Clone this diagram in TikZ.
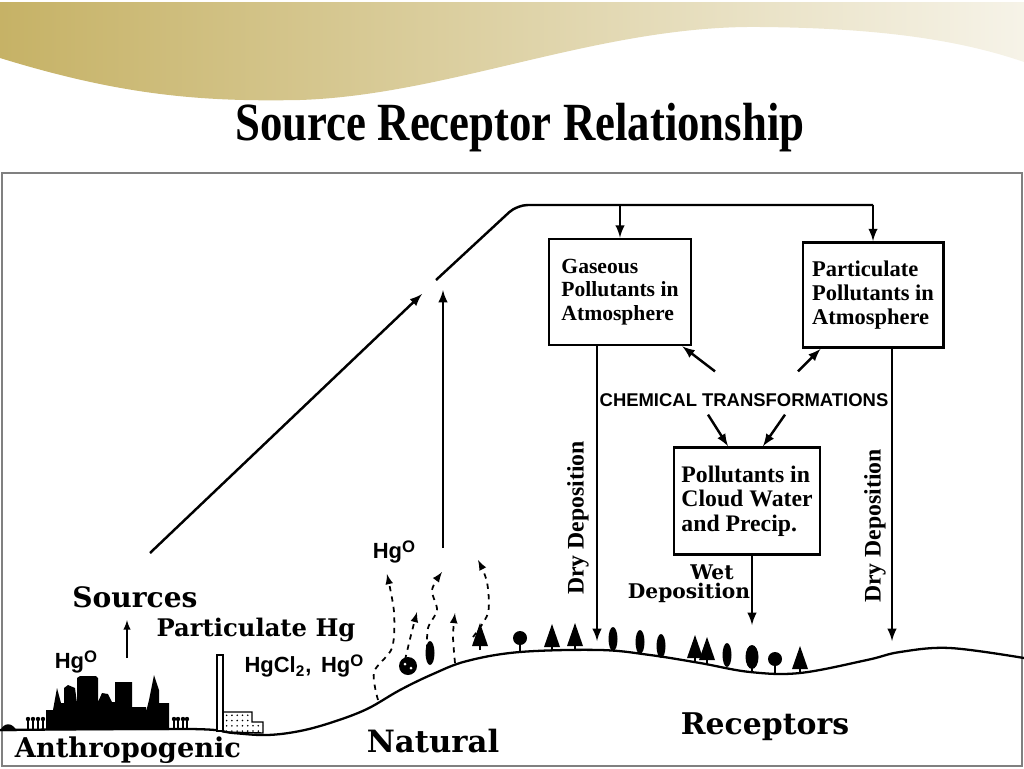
\documentclass[tikz,border=0pt]{standalone}
\usepackage{fontspec}
\setmainfont{Liberation Serif}
\newfontfamily\widefont{DejaVu Serif}
\newfontfamily\arialfont{Liberation Sans}
\usetikzlibrary{calc,patterns}
\definecolor{goldL}{HTML}{C6B266}
\definecolor{goldM}{HTML}{DAD0A2}
\definecolor{goldR}{HTML}{F6F3E8}
\newcommand{\hgo}{Hg\raisebox{0.6ex}{\fontsize{9.5}{9.5}\selectfont O}}
\tikzset{
  main/.style={line width=1.4pt},
  wavy/.style={line width=1pt, dashed},
  box/.style={draw, line width=1.4pt, align=left, inner xsep=5pt, font=\bfseries},
  label/.style={font=\widefont\bfseries},
  roundtree/.pic={\draw[line width=1.2pt] (0,0) -- (0,-9); \fill (0,-14) circle (7);},
  conifer/.pic={\fill (0,-27) -- (-8,-4) -- (8,-4) -- cycle; \draw[line width=1.2pt] (0,0) -- (0,-5);},
  cypress/.pic={\fill (0,-12) ellipse (4.5 and 12);},
  oaktree/.pic={\draw[line width=1.2pt] (0,0) -- (0,-6); \fill (0,-15) ellipse (6.5 and 12);},
  bush/.pic={\fill (0,-9) circle (9); \fill[white] (-3,-11) circle (1.5) (3,-7) circle (1.5);}
}
\begin{document}
\begin{tikzpicture}[>=latex, x=0.02cm, y=-0.02cm]
\useasboundingbox (0,0) rectangle (1024,768);
% banner
\shade[left color=goldL, middle color=goldM, right color=goldR] (0,2) -- (1024,2) -- (1024,62) .. controls (960,40) and (880,28) .. (760,27) .. controls (600,25) and (450,95) .. (300,100) .. controls (200,102) and (120,95) .. (0,58) -- cycle;
\node[font=\fontsize{25.5}{28}\selectfont\bfseries] (title) at (520,128) {\scalebox{1}[1.2]{Source Receptor Relationship}};
\draw[gray, line width=0.8pt] (2,173) rectangle (1022,766);

% ground
\draw[line width=1.3pt] plot[smooth, tension=0.6] coordinates {(0,730) (190,729) (233,733) (267,735) (300,731) (333,722) (367,709) (400,690) (433,674) (467,661) (520,652) (600,650) (650,655) (700,663) (750,672) (800,673) (867,660) (900,652) (950,648) (1024,658)};

% city
\fill (0,731) .. controls (4,722) and (12,722) .. (17,731) -- cycle;
\foreach \x in {28,33,38,43,174,178,183,187}
{
   \draw[line width=0.9pt] (\x,729) -- (\x,721);
   \fill (\x,719) circle (2.2);
}
\fill (46,730) -- (46,710) -- (53,710) -- (57,688) -- (61,703) -- (64,703) -- (64,688) -- (68,685) -- (75,688) -- (77,703) -- (77,678) -- (80,676) -- (96,676) -- (98,678) -- (98,702) -- (102,693) -- (108,694) -- (112,702) -- (115,702) -- (115,682) -- (132,682) -- (132,707) -- (146,707) -- (146,712) -- (149,700) -- (154,675) -- (159,690) -- (159,703) -- (169,703) -- (169,730) -- cycle;
\draw[line width=1.2pt, fill=white] (217,655) rectangle (223,731);
\draw[line width=0.8pt, pattern=dots] (223,732) -- (223,712) -- (252,712) -- (252,722) -- (263,722) -- (263,733) -- cycle;

% trees
\pic at (408,675) {bush};
\pic at (430,665) {cypress};
\pic at (480,650) {conifer};
\foreach \x/\y/\t in {520/652/roundtree, 552/651/conifer, 575/650/conifer, 613/651/cypress, 640/654/cypress, 661/658/cypress, 695/662/conifer, 707/664/conifer, 727/667/cypress, 752/672/oaktree, 775/673/roundtree, 800/673/conifer}
{
   \pic at (\x,\y) {\t};
}

% labels
\node[label, font=\widefont\bfseries\fontsize{16}{18}\selectfont] (sources) at (135,597) {Sources};
\node[label, font=\widefont\bfseries\fontsize{13.8}{15}\selectfont] (parthg) at (256,630) {Particulate Hg};
\node[label, font=\widefont\bfseries\fontsize{15.5}{17}\selectfont] (anthro) at (128,750) {Anthropogenic};
\node[label, font=\widefont\bfseries\fontsize{17.5}{19}\selectfont] (natural) at (433,741) {Natural};
\node[label, font=\widefont\bfseries\fontsize{17}{19}\selectfont] (receptors) at (765,727) {Receptors};
\node[font=\arialfont\bfseries\fontsize{12.5}{14}\selectfont] (hgcity) at (76,662) {\hgo};
\node[font=\arialfont\bfseries\fontsize{12.5}{14}\selectfont] (hgcl) at (304,666) {HgCl\textsubscript{2},\, \hgo};
\node[font=\arialfont\bfseries\fontsize{12.5}{14}\selectfont] (hgnat) at (394,552) {\hgo};
\coordinate (citybase) at (127,658);
\coordinate (citytop) at (127,620);
\draw[->, line width=0.9pt] (citybase) -- (citytop);

% natural emissions
\draw[->, wavy] plot[smooth] coordinates {(378,700) (374,672) (392,648) (394,612) (387,574)};
\draw[->, wavy] plot[smooth] coordinates {(405,660) (411,635) (417,612)};
\draw[->, wavy] plot[smooth] coordinates {(427,650) (428,628) (437,610) (432,590) (442,572)};
\draw[->, wavy] plot[smooth] coordinates {(455,663) (453,636) (455,613)};
\draw[->, wavy] plot[smooth] coordinates {(473,637) (488,613) (487,582) (478,560)};

% boxes
\node[box, minimum width=81pt, minimum height=60.5pt, font=\bfseries\fontsize{12.3}{13.2}\selectfont] (gas) at (620,292) {Gaseous\\Pollutants in\\Atmosphere};
\node[box, minimum width=80pt, minimum height=60pt, font=\bfseries\fontsize{12.8}{13.6}\selectfont] (part) at (873,295) {Particulate\\Pollutants in\\Atmosphere};
\node[box, minimum width=83pt, minimum height=61pt, inner xsep=2pt, font=\bfseries\fontsize{13.5}{14}\selectfont] (cloud) at (747,501) {Pollutants in\\Cloud Water\\and Precip.};
\node[font=\arialfont\bfseries\fontsize{10.5}{12}\selectfont, inner sep=1pt] (chem) at (744,400) {CHEMICAL TRANSFORMATIONS};

% transport
\coordinate (src) at (150,553);
\coordinate (gap1) at (422,294);
\coordinate (gap2) at (436,280);
\coordinate (corner) at (517,205);
\draw[->, main] (src) -- (gap1);
\draw[main, rounded corners=6pt] (gap2) -- (corner) -- (part.north |- corner);
\draw[->, main] (gas.north |- corner) -- (gas.north);
\draw[->, main] (part.north |- corner) -- (part.north);
\coordinate (nat) at (443,548);
\coordinate (natup) at (443,290);
\draw[->, main] (nat) -- (natup);

% chemical transformations
\draw[->, main] ($(chem.north)+(-29,-20)$) -- ($(gas.south east)+(-10,0)$);
\draw[->, main] ($(chem.north)+(54,-20)$) -- ($(part.south west)+(19,0)$);
\draw[->, main] ($(chem.south)+(-36,6)$) -- ($(cloud.north)+(-19,0)$);
\draw[->, main] ($(chem.south)+(41,6)$) -- ($(cloud.north)+(16,0)$);

% deposition
\coordinate (drygas) at (597,641);
\coordinate (drypart) at (892,641);
\coordinate (wetend) at (752,625);
\draw[->, main] (drygas |- gas.south) -- (drygas);
\draw[->, main] (drypart |- part.south) -- (drypart);
\draw[->, main] (wetend |- cloud.south) -- (wetend);
\node[rotate=90, font=\bfseries\fontsize{13.5}{15}\selectfont] (drylab1) at (578,518) {Dry Deposition};
\node[rotate=90, font=\bfseries\fontsize{13.5}{15}\selectfont] (drylab2) at (875,526) {Dry Deposition};
\node[label, inner sep=0pt, font=\widefont\bfseries\fontsize{11.5}{12}\selectfont] (wet) at (712,572) {Wet};
\node[label, inner sep=0pt, font=\widefont\bfseries\fontsize{11.5}{12}\selectfont] (wetdep) at (689,593) {Deposition};
\end{tikzpicture}
\end{document}
